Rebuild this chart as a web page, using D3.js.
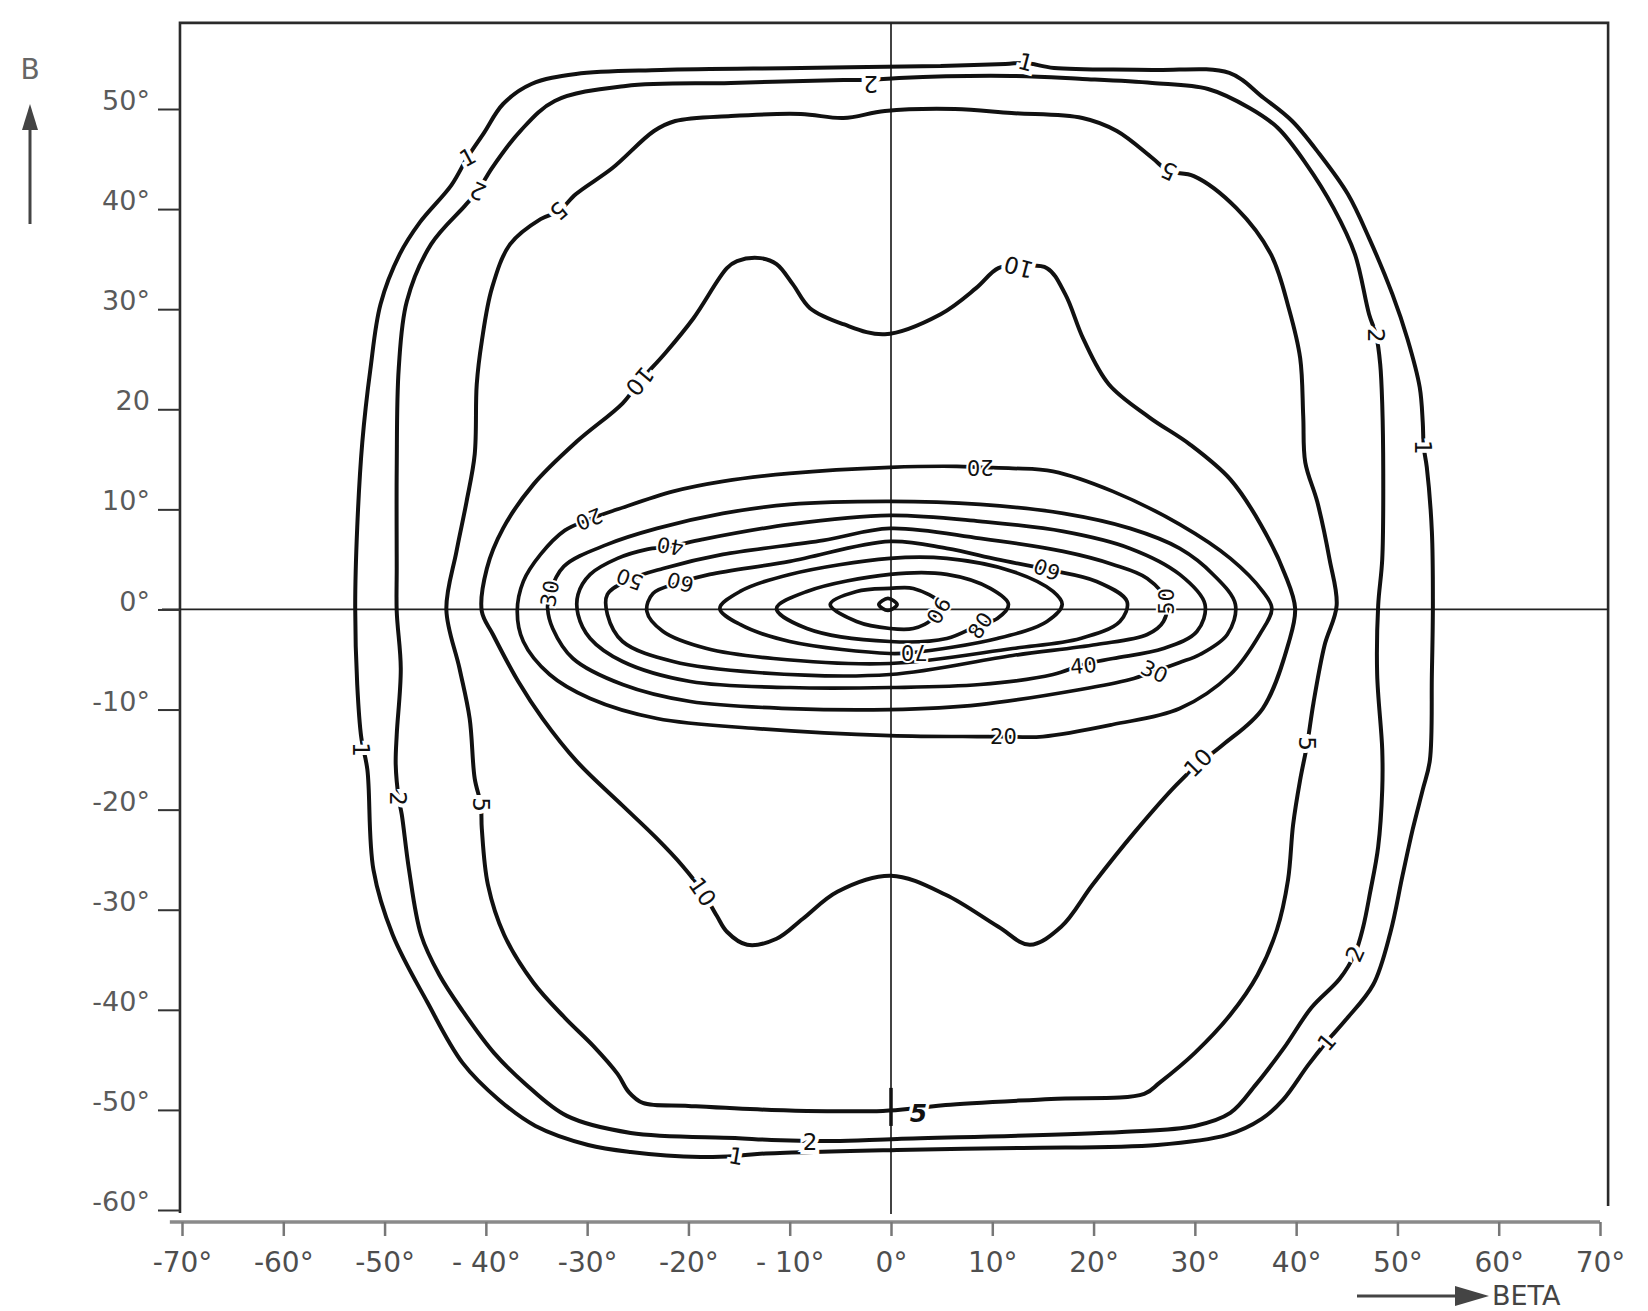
<!DOCTYPE html>
<html>
<head>
<meta charset="utf-8">
<script src="https://cdn.jsdelivr.net/npm/d3@7"></script>
<style>
  html, body { margin: 0; padding: 0; background: #fff; }
  svg { display: block; }
</style>
</head>
<body>
<svg id="chart" width="1648" height="1311"></svg>
<script>
// Isocandela diagram: contour levels over BETA (horizontal) and B (vertical), in degrees.

const xTicks = [-70, -60, -50, -40, -30, -20, -10, 0, 10, 20, 30, 40, 50, 60, 70];
const xTickLabels = ["-70°", "-60°", "-50°", "- 40°", "-30°", "-20°", "- 10°", "0°", "10°", "20°", "30°", "40°", "50°", "60°", "70°"];
const yTicks = [50, 40, 30, 20, 10, 0, -10, -20, -30, -40, -50, -60];
const yTickLabels = ["50°", "40°", "30°", "20", "10°", "0°", "-10°", "-20°", "-30°", "-40°", "-50°", "-60°"];

// Each contour is a closed ring of [beta, B] points.
const level1 = [[-8.9,54.1],[4.9,54.3],[11.3,54.5],[13.3,54.6],[16.1,54.1],[25.8,53.9],[33.4,53.6],[36.8,51.1],[39.6,48.8],[42.3,45.5],[45.1,41.5],[47.2,37.1],[49.5,31.5],[51.0,27.0],[52.2,22.2],[52.5,18.7],[52.6,16.2],[52.9,14.2],[53.4,7.8],[53.5,0.4],[53.4,-6.5],[53.2,-15.1],[52.5,-18.0],[51.5,-22.0],[50.5,-26.6],[49.3,-32.3],[47.6,-37.5],[44.9,-41.0],[43.0,-43.2],[41.2,-45.5],[38.7,-49.0],[36.6,-50.9],[33.2,-52.5],[26.3,-53.5],[13.0,-53.8],[0.6,-54.0],[-13.2,-54.4],[-15.3,-54.6],[-18.8,-54.7],[-25.7,-54.2],[-29.9,-53.5],[-35.1,-51.6],[-38.7,-49.0],[-42.3,-45.3],[-45.8,-39.2],[-49.2,-32.5],[-51.1,-26.0],[-51.7,-16.0],[-52.3,-12.8],[-52.7,-7.5],[-52.9,0.2],[-52.7,8.2],[-52.2,16.7],[-51.4,24.0],[-50.4,30.5],[-48.5,35.5],[-46.5,38.7],[-43.4,42.4],[-41.8,45.2],[-40.2,47.6],[-38.3,50.5],[-35.5,52.5],[-31.1,53.5],[-22.7,53.9]];

const level2 = [[-15.8,52.6],[-4.7,52.9],[-2.0,52.9],[0.8,53.1],[11.9,53.3],[18.9,53.0],[25.8,52.6],[31.3,52.0],[35.4,50.1],[38.2,48.1],[41.0,44.5],[43.7,40.1],[45.8,35.5],[47.2,29.5],[47.9,27.4],[48.3,24.5],[48.5,20.5],[48.6,13.6],[48.5,5.0],[48.1,0.4],[48.0,-6.5],[48.5,-14.0],[48.5,-18.0],[48.1,-23.7],[47.3,-28.3],[46.6,-31.8],[45.8,-34.4],[44.3,-36.9],[41.5,-39.8],[38.8,-43.8],[36.0,-47.5],[33.5,-50.3],[30.0,-51.6],[22.8,-52.2],[0.6,-52.9],[-5.6,-53.1],[-8.0,-53.1],[-11.8,-53.0],[-15.4,-52.8],[-25.7,-52.3],[-32.0,-50.6],[-36.1,-47.4],[-39.2,-44.3],[-42.3,-40.1],[-44.6,-36.5],[-46.4,-32.5],[-47.6,-25.9],[-48.3,-20.5],[-48.6,-18.9],[-48.9,-15.5],[-48.8,-12.5],[-48.4,-5.9],[-48.8,-0.2],[-48.8,4.1],[-48.8,14.1],[-48.6,24.1],[-47.8,30.8],[-45.4,36.5],[-42.1,40.3],[-40.8,41.8],[-39.4,44.1],[-36.6,47.8],[-33.2,50.8],[-26.2,52.3]];

const level5 = [[-15.8,49.3],[-8.9,49.5],[-4.7,49.1],[-0.6,49.8],[6.3,50.0],[11.9,49.6],[18.9,49.1],[22.3,47.8],[25.8,45.1],[27.4,43.8],[29.9,43.3],[34.1,40.1],[37.5,35.5],[39.3,30.0],[40.4,25.1],[40.7,19.3],[40.9,14.7],[42.1,10.7],[43.3,5.0],[44.0,0.4],[42.8,-3.6],[41.7,-9.4],[41.1,-13.4],[40.4,-17.0],[39.7,-21.5],[39.2,-27.0],[38.1,-32.0],[36.2,-36.5],[33.5,-40.5],[30.0,-44.3],[26.5,-47.3],[25.0,-48.4],[15.8,-48.9],[5.4,-49.5],[2.7,-49.8],[-0.8,-50.1],[-11.8,-50.0],[-20.0,-49.6],[-24.5,-49.3],[-25.9,-48.2],[-27.0,-46.4],[-29.4,-43.6],[-32.2,-40.8],[-35.3,-37.3],[-38.2,-32.5],[-39.8,-27.5],[-40.4,-21.9],[-40.5,-19.5],[-41.1,-16.9],[-41.6,-10.9],[-42.6,-5.9],[-43.9,0.0],[-42.9,5.8],[-41.9,10.8],[-41.1,15.5],[-40.9,22.5],[-40.4,26.8],[-39.4,32.1],[-37.6,36.5],[-34.6,39.0],[-32.8,39.8],[-31.1,41.5],[-27.5,44.1],[-23.4,47.8],[-21.3,48.8]];

const level10 = [[-0.6,27.5],[4.9,29.5],[8.4,32.1],[10.6,34.1],[12.6,34.3],[15.4,34.1],[17.2,31.5],[19.0,27.0],[21.5,22.5],[25.5,19.2],[29.5,16.5],[33.5,13.0],[36.5,8.5],[38.9,3.5],[39.9,0.1],[39.3,-3.2],[36.7,-9.9],[32.8,-13.5],[30.3,-15.5],[28.2,-17.5],[24.1,-22.2],[19.9,-27.5],[16.8,-31.7],[13.7,-33.5],[10.6,-31.7],[5.4,-28.5],[0.0,-26.6],[-5.3,-28.2],[-8.7,-30.9],[-11.3,-32.9],[-14.2,-33.5],[-16.2,-32.2],[-17.2,-30.6],[-18.6,-28.2],[-20.6,-25.6],[-23.2,-22.8],[-26.5,-19.6],[-31.0,-15.2],[-34.4,-10.9],[-36.8,-7.2],[-39.3,-2.5],[-40.4,-0.2],[-39.9,4.1],[-38.3,8.1],[-35.3,12.5],[-31.0,16.8],[-26.5,20.6],[-24.8,22.8],[-22.3,25.6],[-19.5,29.1],[-16.2,34.1],[-15.2,34.8],[-12.9,35.1],[-11.3,34.5],[-9.7,32.5],[-8.0,30.1],[-4.7,28.5]];

const level20 = [[-0.1,14.2],[6.5,14.3],[8.8,14.2],[12.0,14.1],[16.0,13.8],[21.9,11.8],[28.5,8.5],[33.5,5.1],[36.7,1.8],[37.6,0.1],[36.4,-2.5],[33.5,-6.5],[28.5,-9.9],[21.9,-11.5],[15.0,-12.7],[11.1,-12.7],[8.5,-12.7],[-0.1,-12.6],[-13.2,-11.9],[-23.1,-10.9],[-29.7,-8.9],[-33.7,-6.5],[-36.3,-3.2],[-36.9,-0.2],[-36.3,2.8],[-34.6,5.5],[-32.2,7.9],[-29.8,9.0],[-27.0,10.0],[-21.5,11.8],[-16.6,12.8],[-10.0,13.6]];

const level30 = [[-0.1,10.8],[8.8,10.5],[17.0,9.6],[23.6,8.1],[28.5,6.1],[31.8,3.5],[34.0,0.5],[33.2,-2.5],[30.5,-4.5],[28.5,-5.3],[26.0,-6.2],[23.6,-7.0],[18.7,-8.0],[8.8,-9.5],[-0.1,-10.0],[-10.0,-9.9],[-19.8,-9.2],[-26.5,-7.5],[-31.4,-4.9],[-33.4,-1.9],[-33.9,0.1],[-33.7,1.6],[-32.3,4.3],[-28.0,6.5],[-23.1,8.1],[-16.6,9.6],[-10.0,10.5]];

const level40 = [[-0.1,9.4],[8.8,8.8],[17.0,7.8],[23.6,6.1],[28.5,3.5],[31.0,0.5],[30.2,-2.2],[26.9,-3.9],[21.9,-4.9],[19.0,-5.5],[16.0,-6.5],[8.8,-7.5],[-0.1,-7.8],[-10.0,-7.8],[-19.8,-7.2],[-26.5,-5.2],[-29.7,-2.9],[-30.9,-0.5],[-30.9,1.5],[-29.7,3.5],[-27.0,5.1],[-24.1,6.0],[-21.8,6.3],[-18.6,7.0],[-10.0,8.5]];

const level50 = [[-0.1,8.1],[8.8,7.1],[17.0,5.8],[21.9,4.5],[25.3,3.1],[27.2,0.8],[26.9,-1.2],[25.3,-2.5],[20.3,-3.5],[12.0,-4.6],[-0.1,-6.5],[-13.2,-6.3],[-21.5,-5.2],[-26.5,-3.2],[-28.0,-0.5],[-28.0,1.5],[-25.8,3.0],[-22.5,4.1],[-16.6,5.5],[-6.7,6.9]];

const level60 = [[-0.1,6.8],[5.5,6.1],[10.5,5.0],[15.4,4.0],[20.3,2.8],[23.3,0.8],[22.6,-1.2],[18.7,-2.9],[12.0,-3.9],[-0.1,-5.4],[-11.6,-4.9],[-18.2,-3.9],[-22.5,-2.2],[-24.1,-0.2],[-23.5,1.6],[-20.8,2.7],[-17.9,3.5],[-10.0,4.8]];

const level70 = [[-0.1,5.1],[5.5,5.1],[12.0,3.8],[16.0,1.8],[16.9,0.5],[15.4,-1.2],[10.5,-2.9],[2.2,-4.3],[-0.1,-4.4],[-10.0,-3.2],[-14.9,-1.5],[-16.9,0.1],[-14.9,1.8],[-10.0,3.5]];

const level80 = [[-0.1,3.5],[5.5,3.5],[9.8,2.1],[11.6,0.5],[10.5,-0.9],[8.8,-1.5],[5.5,-2.9],[-0.1,-3.2],[-8.3,-1.9],[-11.3,0.1],[-8.3,1.8]];

const level90 = [[-0.1,2.1],[2.2,2.1],[4.8,0.6],[4.0,-1.0],[2.2,-1.9],[-0.1,-1.9],[-3.4,-1.2],[-6.0,0.5],[-3.4,1.8]];

const level100 = [[-1.2,0.5],[-0.3,1.1],[0.6,0.5],[-0.3,-0.1]];

const contours = [
  { level: 1, ring: level1 }, { level: 2, ring: level2 }, { level: 5, ring: level5 },
  { level: 10, ring: level10 }, { level: 20, ring: level20 }, { level: 30, ring: level30 },
  { level: 40, ring: level40 }, { level: 50, ring: level50 }, { level: 60, ring: level60 },
  { level: 70, ring: level70 }, { level: 80, ring: level80 }, { level: 90, ring: level90 },
  { level: 100, ring: level100 }
];

// Contour labels: [text, beta, B, rotation in degrees]
const outerLabels = [
  ["1", 13.3, 54.7, 15], ["1", -41.8, 45.2, -28], ["1", -52.3, -14.0, 90],
  ["1", 52.6, 16.2, 90], ["1", 43.0, -43.2, -50], ["1", -15.3, -54.6, 10],
  ["2", -40.8, 41.8, 205], ["2", -2.0, 52.5, 180], ["2", 47.9, 27.4, 90],
  ["2", 45.8, -34.4, -66], ["2", -8.0, -53.2, 0], ["2", -48.6, -18.9, 90],
  ["5", -32.8, 39.8, 140], ["5", 27.4, 43.8, 205], ["5", 41.1, -13.4, 90],
  ["5", -40.5, -19.5, 90],
  ["10", -24.8, 22.8, 130], ["10", 12.6, 34.2, 195], ["10", -18.6, -28.2, 55],
  ["10", 30.3, -15.3, -45]
];
const innerLabels = [
  ["20", 8.8, 14.2, 180], ["20", -29.8, 9.0, 158], ["20", 11.1, -12.7, 0],
  ["30", -33.7, 1.6, -80], ["30", 26.0, -6.2, 25],
  ["40", -21.8, 6.3, 190], ["40", 19.0, -5.6, -5],
  ["50", -25.8, 3.0, 200], ["50", 27.2, 0.8, -90],
  ["60", -20.8, 2.7, 195], ["60", 15.4, 4.0, 200],
  ["70", 2.3, -4.3, 180], ["80", 8.8, -1.6, -55], ["90", 4.7, -0.1, 120]
];
const bottomFiveLabel = ["5", 2.7, -50.3];

const svg = d3.select("#chart");
svg.append("rect").attr("width", 1648).attr("height", 1311).attr("fill", "#fff");

const x = d3.scaleLinear().domain([-70, 70]).range([182, 1600]);
const y = d3.scaleLinear().domain([-60, 50]).range([1210, 109]);

const frameLeft = x(-70.2), frameRight = x(70.8), frameTop = y(58.6), frameBottom = y(-60.3);
const axisY = y(-61.2);

// Frame
svg.append("path")
  .attr("d", `M${frameLeft},${frameBottom}V${frameTop}H${frameRight}V${y(-59.6)}`)
  .attr("fill", "none").attr("stroke", "#2a2a2a").attr("stroke-width", 2.6);

// Reference cross through the origin
svg.append("line").attr("x1", x(0)).attr("x2", x(0)).attr("y1", frameTop).attr("y2", axisY - 8)
  .attr("stroke", "#222").attr("stroke-width", 1.7);
svg.append("line").attr("x1", frameLeft - 18).attr("x2", frameRight).attr("y1", y(0)).attr("y2", y(0))
  .attr("stroke", "#222").attr("stroke-width", 1.7);

// Vertical axis ticks and labels
const yAxis = d3.axisLeft(y).tickValues(yTicks).tickSize(22).tickPadding(8)
  .tickFormat((d, i) => yTickLabels[i]);
const gy = svg.append("g").attr("transform", `translate(${frameLeft},0)`).call(yAxis);
gy.select(".domain").remove();
gy.selectAll(".tick line").attr("stroke", "#333").attr("stroke-width", 2);
gy.selectAll(".tick text").attr("dy", "0.02em")
  .attr("font-family", "'DejaVu Sans', sans-serif").attr("font-size", 27)
  .attr("fill", "#5a5a5a");

// Horizontal axis
const xAxis = d3.axisBottom(x).tickValues(xTicks).tickSize(14).tickSizeOuter(0).tickPadding(16)
  .tickFormat((d, i) => xTickLabels[i]);
const gx = svg.append("g").attr("transform", `translate(0,${axisY})`).call(xAxis);
gx.select(".domain").attr("stroke", "#8a8a8a").attr("stroke-width", 3.5)
  .attr("d", `M${x(-71.2)},0H${x(70)}`);
gx.selectAll(".tick line").attr("stroke", "#777").attr("stroke-width", 2.5);
gx.selectAll(".tick text")
  .attr("font-family", "'DejaVu Sans', sans-serif").attr("font-size", 28)
  .attr("fill", "#4e4e4e");

// Contours
const line = d3.line()
  .x(d => x(d[0])).y(d => y(d[1]))
  .curve(d3.curveCatmullRomClosed.alpha(0.5));

svg.append("g").selectAll("path").data(contours).join("path")
  .attr("d", d => line(d.ring))
  .attr("fill", "none").attr("stroke", "#111")
  .attr("stroke-width", d => d.level >= 20 ? 3.7 : 4)
  .attr("stroke-linejoin", "round");

// Retouched stroke across the origin line on the 5 contour
svg.append("line").attr("x1", x(0)).attr("x2", x(0)).attr("y1", y(-47.8)).attr("y2", y(-51.6))
  .attr("stroke", "#111").attr("stroke-width", 3.5);

// Contour labels, haloed in white so the line breaks around them
function drawLabels(list, size, halo) {
  svg.append("g").selectAll("text").data(list).join("text")
    .attr("transform", d => `translate(${x(d[1])},${y(d[2])}) rotate(${d[3]})`)
    .attr("text-anchor", "middle").attr("dy", "0.36em")
    .attr("font-family", "'DejaVu Sans', sans-serif").attr("font-size", size)
    .attr("fill", "#111")
    .attr("stroke", "#fff").attr("stroke-width", halo).attr("paint-order", "stroke")
    .text(d => d[0]);
}
drawLabels(outerLabels, 23, 8);
drawLabels(innerLabels, 21, 4);

svg.append("text")
  .attr("x", x(bottomFiveLabel[1])).attr("y", y(bottomFiveLabel[2]))
  .attr("text-anchor", "middle").attr("dy", "0.36em")
  .attr("font-family", "'DejaVu Sans', sans-serif").attr("font-size", 25)
  .attr("font-weight", "bold").attr("font-style", "italic")
  .attr("fill", "#111").attr("stroke", "#fff").attr("stroke-width", 7).attr("paint-order", "stroke")
  .text(bottomFiveLabel[0]);

// Vertical axis title with arrow
svg.append("text").attr("x", 30).attr("y", 79).attr("text-anchor", "middle")
  .attr("font-family", "'DejaVu Sans', sans-serif").attr("font-size", 28).attr("fill", "#666")
  .text("B");
svg.append("line").attr("x1", 30).attr("x2", 30).attr("y1", 224).attr("y2", 122)
  .attr("stroke", "#444").attr("stroke-width", 3);
svg.append("path").attr("d", "M30,104L22,130L38,130Z").attr("fill", "#444");

// Horizontal axis title with arrow
svg.append("line").attr("x1", 1357).attr("x2", 1462).attr("y1", 1296).attr("y2", 1296)
  .attr("stroke", "#444").attr("stroke-width", 3);
svg.append("path").attr("d", "M1489,1296L1455,1286L1455,1306Z").attr("fill", "#444");
svg.append("text").attr("x", 1492).attr("y", 1305)
  .attr("font-family", "'DejaVu Sans', sans-serif").attr("font-size", 27).attr("fill", "#444")
  .text("BETA");
</script>
</body>
</html>
